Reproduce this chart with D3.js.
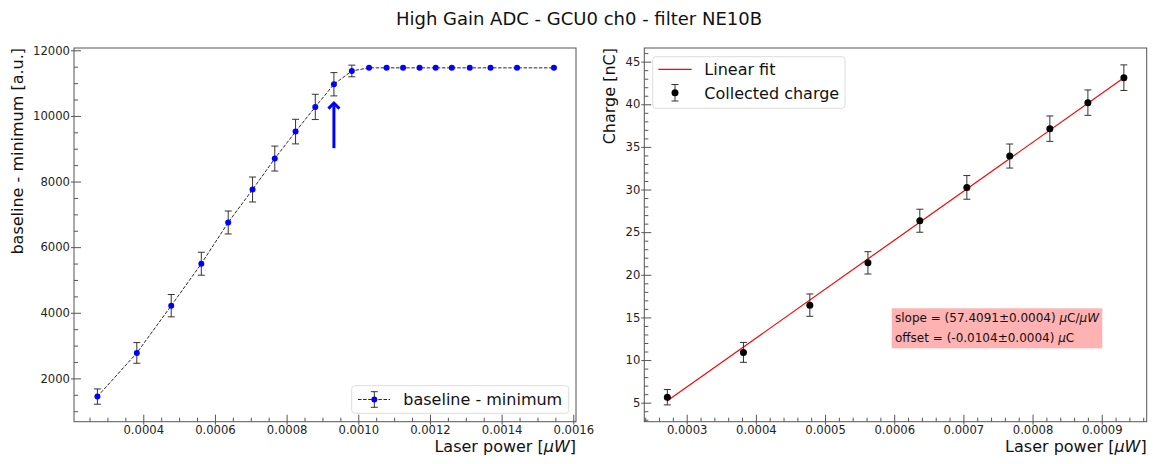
<!DOCTYPE html>
<html>
<head>
<meta charset="utf-8">
<script src="https://cdn.jsdelivr.net/npm/d3@7"></script>
<style>
  body { margin: 0; background: #fff; }
  svg { font-family: "DejaVu Sans", sans-serif; }
  .tick text { fill: #222; }
</style>
</head>
<body>
<svg id="chart" width="1153" height="464"></svg>
<script>
// laser power for each step [uW]
var power = [0.000272, 0.000382, 0.000478, 0.000562, 0.000637, 0.000705, 0.000767,
    0.000825, 0.000880, 0.000932, 0.000982, 0.001030, 0.001079, 0.001125, 0.001171,
    0.001216, 0.001261, 0.001311, 0.001369, 0.001443, 0.001546];
// baseline - minimum (left)
var amplitude = [1446, 2776, 4216, 5495, 6752, 7757, 8700, 9522, 10274, 10965, 11370,
    11465, 11465, 11465, 11465, 11465, 11465, 11465, 11465, 11465, 11465];
var amplitudeErr = [233, 315, 340, 350, 350, 380, 380, 375, 385, 355, 178,
    12, 12, 12, 12, 12, 12, 12, 12, 12, 12];
// collected charge (right), only non saturated points
var chargePower = power.slice(0, 10);
var charge = [5.64, 10.9, 16.44, 21.4, 26.34, 30.25, 33.93, 37.14, 40.19, 43.12];
var chargeErr = [0.9, 1.17, 1.31, 1.31, 1.35, 1.39, 1.41, 1.49, 1.49, 1.5];
// fit parameters, converted to nC
var fitSlope = 57409.1;
var fitOffset = -10.4;
var fitText = ['slope = (57.4091\u00b10.0004) ', 'offset = (-0.0104\u00b10.0004) '];
// saturation arrow (x, from, to)
var arrowX = 0.000932, arrowFrom = 9017, arrowTo = 10405;

var leftXTicks = [0.0004, 0.0006, 0.0008, 0.0010, 0.0012, 0.0014, 0.0016];
var leftYTicks = [2000, 4000, 6000, 8000, 10000, 12000];
var rightXTicks = [0.0003, 0.0004, 0.0005, 0.0006, 0.0007, 0.0008, 0.0009];
var rightYTicks = [5, 10, 15, 20, 25, 30, 35, 40, 45];

var svg = d3.select('#chart');
var top_ = 48, bottom = 421.7;
var spine = '#555';

svg.append('text')
    .attr('x', 579).attr('y', 25)
    .attr('text-anchor', 'middle')
    .attr('font-size', '18px').attr('fill', '#111')
    .text('High Gain ADC - GCU0 ch0 - filter NE10B');

function minor(start, stop, step, majors) {
    var out = [];
    for (var i = 0; start + i * step <= stop + step * 1e-6; i++) {
        var v = +(start + i * step).toFixed(8);
        var isMajor = majors.some(function (m) { return Math.abs(m - v) < step * 1e-3; });
        if (!isMajor) out.push(v);
    }
    return out;
}

// draws box + inout major ticks + inward minor ticks
function frame(g, x, y, xt, yt, xMinor, yMinor, xFmt, yFmt) {
    var x0 = x.range()[0], x1 = x.range()[1];
    g.append('rect')
        .attr('x', x0).attr('y', top_)
        .attr('width', x1 - x0).attr('height', bottom - top_)
        .attr('fill', 'none').attr('stroke', spine).attr('stroke-width', 1);

    var xa = g.append('g').attr('transform', 'translate(0,' + bottom + ')')
        .call(d3.axisBottom(x).tickValues(xt).tickFormat(xFmt)
            .tickSizeInner(-7).tickSizeOuter(0).tickPadding(4));
    xa.selectAll('.tick line').attr('y1', 3);
    var xm = g.append('g').attr('transform', 'translate(0,' + bottom + ')')
        .call(d3.axisBottom(x).tickValues(xMinor).tickFormat('').tickSize(-4));

    var ya = g.append('g').attr('transform', 'translate(' + x0 + ',0)')
        .call(d3.axisLeft(y).tickValues(yt).tickFormat(yFmt)
            .tickSizeInner(-7).tickSizeOuter(0).tickPadding(4));
    ya.selectAll('.tick line').attr('x1', -3);
    var ym = g.append('g').attr('transform', 'translate(' + x0 + ',0)')
        .call(d3.axisLeft(y).tickValues(yMinor).tickFormat('').tickSize(-4));

    [xa, xm, ya, ym].forEach(function (a) {
        a.select('.domain').remove();
        a.selectAll('.tick line').attr('stroke', spine);
        a.selectAll('.tick text').attr('font-size', '11.6px')
            .attr('font-family', '"DejaVu Sans", sans-serif');
    });
}

function errorbars(g, data, x, y, color) {
    var eb = g.append('g').attr('stroke', color).attr('stroke-width', 1);
    data.forEach(function (d) {
        var cx = x(d.x), lo = y(d.y - d.e), hi = y(d.y + d.e);
        if (Math.abs(lo - hi) < 2) return;
        eb.append('line').attr('x1', cx).attr('x2', cx).attr('y1', lo).attr('y2', hi);
        eb.append('line').attr('x1', cx - 3.5).attr('x2', cx + 3.5).attr('y1', lo).attr('y2', lo);
        eb.append('line').attr('x1', cx - 3.5).attr('x2', cx + 3.5).attr('y1', hi).attr('y2', hi);
    });
}

function xLabel(g, xr) {
    var t = g.append('text')
        .attr('x', xr).attr('y', 452)
        .attr('text-anchor', 'end')
        .attr('font-size', '16px').attr('fill', '#111');
    t.append('tspan').text('Laser power [');
    t.append('tspan').attr('font-style', 'italic').text('\u03bcW');
    t.append('tspan').text(']');
}

// ---------- left panel ----------
var xL = d3.scaleLinear().domain([0.0002067, 0.0016075]).range([74, 576]);
var yL = d3.scaleLinear().domain([680, 12070]).range([bottom, top_]);
var gL = svg.append('g');
frame(gL, xL, yL, leftXTicks, leftYTicks,
    minor(0.00025, 0.0016, 0.00005, leftXTicks),
    minor(1000, 12000, 500, leftYTicks),
    d3.format('.4f'), d3.format('d'));

var leftData = power.map(function (p, i) {
    return {x: p, y: amplitude[i], e: amplitudeErr[i]};
});
gL.append('path')
    .datum(leftData)
    .attr('d', d3.line().x(function (d) { return xL(d.x); }).y(function (d) { return yL(d.y); }))
    .attr('fill', 'none').attr('stroke', '#111')
    .attr('stroke-width', 0.9).attr('stroke-dasharray', '3.5,1.6');
errorbars(gL, leftData, xL, yL, '#333');
gL.selectAll('circle.pt').data(leftData).enter().append('circle')
    .attr('class', 'pt')
    .attr('cx', function (d) { return xL(d.x); })
    .attr('cy', function (d) { return yL(d.y); })
    .attr('r', 3).attr('fill', '#0000ff');

// saturation arrow
var ax = xL(arrowX), ay0 = yL(arrowFrom), ay1 = yL(arrowTo);
gL.append('line').attr('x1', ax).attr('x2', ax).attr('y1', ay0).attr('y2', ay1 + 1)
    .attr('stroke', '#0000ff').attr('stroke-width', 3);
gL.append('polyline')
    .attr('points', [[ax - 5.5, ay1 + 6], [ax, ay1 + 0.5], [ax + 5.5, ay1 + 6]].join(' '))
    .attr('fill', 'none').attr('stroke', '#0000ff').attr('stroke-width', 3)
    .attr('stroke-linejoin', 'miter');

// left legend
var lg = gL.append('g');
lg.append('rect').attr('x', 351.7).attr('y', 385.7).attr('width', 217).attr('height', 27.6)
    .attr('rx', 3).attr('fill', '#fff').attr('fill-opacity', 0.8)
    .attr('stroke', '#ddd');
lg.append('line').attr('x1', 358).attr('x2', 390).attr('y1', 399.5).attr('y2', 399.5)
    .attr('stroke', '#111').attr('stroke-width', 0.9).attr('stroke-dasharray', '3.5,1.6');
lg.append('line').attr('x1', 374.3).attr('x2', 374.3).attr('y1', 391.7).attr('y2', 407.3)
    .attr('stroke', '#333');
lg.append('line').attr('x1', 370.8).attr('x2', 377.8).attr('y1', 391.7).attr('y2', 391.7).attr('stroke', '#333');
lg.append('line').attr('x1', 370.8).attr('x2', 377.8).attr('y1', 407.3).attr('y2', 407.3).attr('stroke', '#333');
lg.append('circle').attr('cx', 374.3).attr('cy', 399.5).attr('r', 3).attr('fill', '#0000ff');
lg.append('text').attr('x', 403.3).attr('y', 405).attr('font-size', '16px').attr('fill', '#111')
    .text('baseline - minimum');

gL.append('text')
    .attr('transform', 'translate(23,' + top_ + ') rotate(-90)')
    .attr('text-anchor', 'end').attr('font-size', '16px').attr('fill', '#111')
    .text('baseline - minimum [a.u.]');
xLabel(gL, 576);

// ---------- right panel ----------
var xR = d3.scaleLinear().domain([0.0002387, 0.000965]).range([644.3, 1146.7]);
var yR = d3.scaleLinear().domain([2.77, 46.6]).range([bottom, top_]);
var gR = svg.append('g');
frame(gR, xR, yR, rightXTicks, rightYTicks,
    minor(0.00024, 0.00096, 0.00002, rightXTicks),
    minor(3, 46, 1, rightYTicks),
    d3.format('.4f'), d3.format('d'));

var xf0 = chargePower[0], xf1 = chargePower[chargePower.length - 1];
gR.append('line')
    .attr('x1', xR(xf0)).attr('y1', yR(fitSlope * xf0 + fitOffset))
    .attr('x2', xR(xf1)).attr('y2', yR(fitSlope * xf1 + fitOffset))
    .attr('stroke', '#ff0000').attr('stroke-width', 1.2);

var rightData = chargePower.map(function (p, i) {
    return {x: p, y: charge[i], e: chargeErr[i]};
});
errorbars(gR, rightData, xR, yR, '#333');
gR.selectAll('circle.pt').data(rightData).enter().append('circle')
    .attr('class', 'pt')
    .attr('cx', function (d) { return xR(d.x); })
    .attr('cy', function (d) { return yR(d.y); })
    .attr('r', 3.5).attr('fill', '#000');

// fit result box
gR.append('rect').attr('x', 891.7).attr('y', 308.3).attr('width', 210.6).attr('height', 40)
    .attr('fill', '#ffb2b2');
var units = [['\u03bcC/\u03bcW'], ['\u03bcC']];
fitText.forEach(function (s, i) {
    var t = gR.append('text').attr('x', 895).attr('y', 321.5 + i * 20.8)
        .attr('font-size', '12px').attr('fill', '#111');
    t.append('tspan').text(s);
    t.append('tspan').attr('font-style', 'italic').text('\u03bc');
    t.append('tspan').text(i === 0 ? 'C/' : 'C');
    if (i === 0) t.append('tspan').attr('font-style', 'italic').text('\u03bcW');
});

// right legend
var rg = gR.append('g');
rg.append('rect').attr('x', 652.7).attr('y', 56.7).attr('width', 192.3).attr('height', 51.6)
    .attr('rx', 3).attr('fill', '#fff').attr('fill-opacity', 0.8).attr('stroke', '#ddd');
rg.append('line').attr('x1', 658.3).attr('x2', 691.7).attr('y1', 69.3).attr('y2', 69.3)
    .attr('stroke', '#ff0000').attr('stroke-width', 1.2);
rg.append('text').attr('x', 704.3).attr('y', 75).attr('font-size', '16px').attr('fill', '#111')
    .text('Linear fit');
rg.append('line').attr('x1', 675).attr('x2', 675).attr('y1', 84.5).attr('y2', 101).attr('stroke', '#333');
rg.append('line').attr('x1', 671.5).attr('x2', 678.5).attr('y1', 84.5).attr('y2', 84.5).attr('stroke', '#333');
rg.append('line').attr('x1', 671.5).attr('x2', 678.5).attr('y1', 101).attr('y2', 101).attr('stroke', '#333');
rg.append('circle').attr('cx', 675).attr('cy', 92.7).attr('r', 3.5).attr('fill', '#000');
rg.append('text').attr('x', 704.3).attr('y', 98.5).attr('font-size', '16px').attr('fill', '#111')
    .text('Collected charge');

gR.append('text')
    .attr('transform', 'translate(615,' + top_ + ') rotate(-90)')
    .attr('text-anchor', 'end').attr('font-size', '16px').attr('fill', '#111')
    .text('Charge [nC]');
xLabel(gR, 1146.7);
</script>
</body>
</html>
